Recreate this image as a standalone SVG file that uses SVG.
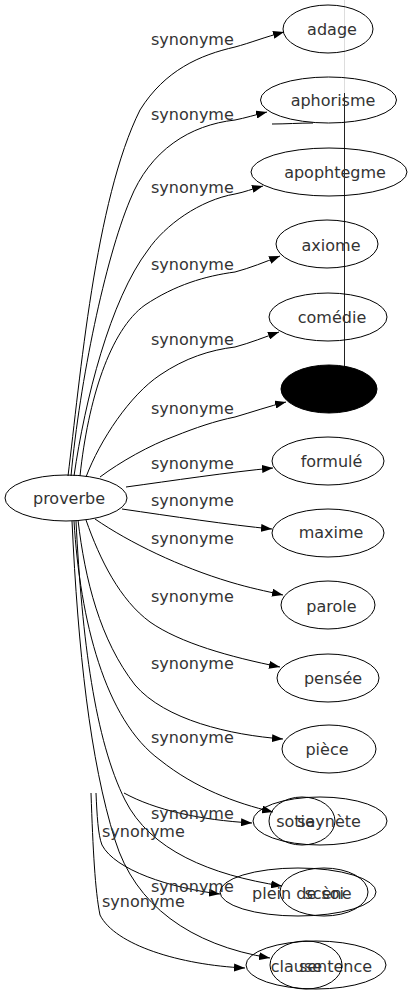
<svg xmlns="http://www.w3.org/2000/svg" width="412" height="995" viewBox="0 0 412 995">
<style>
text{font-family:"DejaVu Sans","Liberation Sans",sans-serif;font-size:16px;fill:#333}
.nl{text-anchor:middle}
.node ellipse{fill:none;stroke:#000;stroke-width:1}
.e{fill:none;stroke:#000;stroke-width:1;marker-end:url(#ah)}
.ln{fill:none;stroke:#000;stroke-width:1}
</style>
<defs>
<marker id="ah" markerWidth="11" markerHeight="8" refX="11" refY="4" orient="auto" markerUnits="userSpaceOnUse"><path d="M0,0 L11,4 L0,8 z" fill="#000"/></marker>
</defs>
<rect width="412" height="995" fill="#fff"/>
<g id="edges">
<path class="e" d="M68,476 C80,380 95,200 140,110 C165,70 200,55 235,47 C250,43 265,37 284,32"/>
<path class="e" d="M71,476 C80,380 105,260 130,200 C150,150 190,125 235,120 C245,118 255,115 267,112"/>
<path class="e" d="M74,476 C85,400 110,300 148,250 C165,225 200,200 235,194 C245,192 252,189 263,186"/>
<path class="e" d="M80,476 C88,400 110,330 145,305 C175,285 205,276 235,272 C250,268 265,262 280,256"/>
<path class="e" d="M86,477 C100,440 130,395 160,375 C185,358 210,350 235,347 C250,343 265,337 279,332"/>
<path class="e" d="M100,477 C120,462 150,445 175,436 C195,428 215,421 235,417 C252,412 270,406 286,402"/>
<path class="e" d="M126,487 C170,481 230,472 273,468"/>
<path class="e" d="M122,509 C170,516 230,525 272,529"/>
<path class="e" d="M95,519 C130,543 180,567 230,582 C250,588 265,591 283,595"/>
<path class="e" d="M86,520 C100,560 120,600 150,622 C180,643 230,657 280,667"/>
<path class="e" d="M78,520 C85,580 100,640 135,685 C165,720 230,735 283,739"/>
<path class="e" d="M74,521 C80,620 105,720 160,760 C195,788 235,803 273,812"/>
<path class="e" d="M76,521 C82,640 95,740 125,800 C150,850 210,875 282,886"/>
<path class="e" d="M72,521 C78,650 90,760 115,840 C135,905 190,945 270,958"/>
<path class="e" d="M91,793 C93,850 95,890 100,915 C115,945 180,965 245,968"/>
<path class="e" d="M96,793 C97,815 98,835 102,845 C115,870 170,888 220,894"/>
<path class="e" d="M124,793 C155,810 200,820 252,823"/>
<path class="ln" d="M272,124 C285,124 300,123 313,123"/>
<line x1="344.5" y1="0" x2="344.5" y2="93" stroke="#ddd" stroke-width="1"/>
<line x1="344.5" y1="93" x2="344.5" y2="367" stroke="#222" stroke-width="1"/>
<text x="151" y="45">synonyme</text>
<text x="151" y="119.5">synonyme</text>
<text x="151" y="193">synonyme</text>
<text x="151" y="269.5">synonyme</text>
<text x="151" y="344.5">synonyme</text>
<text x="151" y="413.5">synonyme</text>
<text x="151" y="469">synonyme</text>
<text x="151" y="506">synonyme</text>
<text x="151" y="543.5">synonyme</text>
<text x="151" y="602">synonyme</text>
<text x="151" y="669">synonyme</text>
<text x="151" y="743">synonyme</text>
<text x="151" y="818.5">synonyme</text>
<text x="102" y="836.5">synonyme</text>
<text x="151" y="891.5">synonyme</text>
<text x="102" y="906.5">synonyme</text>
</g>
<g id="proverbe" class="node"><ellipse cx="66" cy="498" rx="61" ry="23"/><text class="nl" x="69" y="504">proverbe</text></g>
<g id="adage" class="node"><ellipse cx="328" cy="29" rx="45" ry="24"/><text class="nl" x="332" y="35">adage</text></g>
<g id="aphorisme" class="node"><ellipse cx="328.5" cy="100" rx="68" ry="23"/><text class="nl" x="333" y="106">aphorisme</text></g>
<g id="apophtegme" class="node"><ellipse cx="329" cy="172" rx="78" ry="24"/><text class="nl" x="335" y="178">apophtegme</text></g>
<g id="axiome" class="node"><ellipse cx="327" cy="244" rx="51" ry="24"/><text class="nl" x="331" y="251">axiome</text></g>
<g id="comedie" class="node"><ellipse cx="328" cy="317" rx="59" ry="24"/><text class="nl" x="332" y="323">comédie</text></g>
<g id="dicton" class="node"><ellipse cx="329" cy="389" rx="48" ry="24" style="fill:#000"/></g>
<g id="formule" class="node"><ellipse cx="328" cy="461" rx="56" ry="24"/><text class="nl" x="331.5" y="467">formulé</text></g>
<g id="maxime" class="node"><ellipse cx="328" cy="533" rx="56" ry="24"/><text class="nl" x="331" y="538">maxime</text></g>
<g id="parole" class="node"><ellipse cx="328" cy="605" rx="47" ry="24"/><text class="nl" x="331.5" y="612">parole</text></g>
<g id="pensee" class="node"><ellipse cx="328" cy="678" rx="51" ry="24"/><text class="nl" x="333" y="684">pensée</text></g>
<g id="piece" class="node"><ellipse cx="329" cy="749" rx="47" ry="24"/><text class="nl" x="327" y="755">pièce</text></g>
<g id="saynete" class="node"><ellipse cx="320" cy="821" rx="67" ry="24"/><text class="nl" x="329" y="827">saynète</text></g>
<g id="sotie" class="node"><ellipse cx="302" cy="821" rx="33" ry="24"/><text class="nl" x="295.5" y="827">sotie</text></g>
<g id="plein" class="node"><ellipse cx="298" cy="892" rx="78" ry="24"/><text class="nl" x="298" y="899">plein de soi</text></g>
<g id="scene" class="node"><ellipse cx="324" cy="892" rx="44" ry="24"/><text class="nl" x="328" y="899">scène</text></g>
<g id="sentence" class="node"><ellipse cx="316" cy="965" rx="70" ry="24"/><text class="nl" x="335.5" y="972">sentence</text></g>
<g id="clause" class="node"><ellipse cx="306" cy="965" rx="36" ry="24"/><text class="nl" x="296.5" y="972">clause</text></g>
</svg>
